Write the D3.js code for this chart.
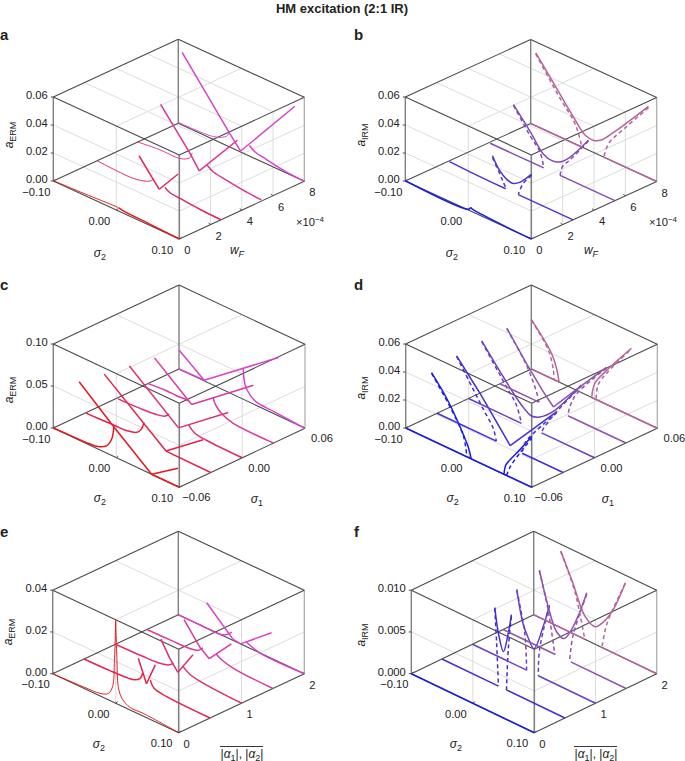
<!DOCTYPE html>
<html><head><meta charset="utf-8">
<script src="https://cdn.jsdelivr.net/npm/d3@7/dist/d3.min.js"></script>
<style>html,body{margin:0;padding:0;background:#fff}svg{display:block}text{font-family:"Liberation Sans",Arial,sans-serif;fill:#222}</style>
</head><body><svg id="c" width="685" height="761"></svg>
<script>
// ---------- tick labels ----------
const sigma2Ticks=[-0.10,0,0.10];
const wFTicks=[0,2,4,6,8];
const sigma1Ticks=[-0.06,0,0.06];
const alphaTicks=[0,1,2];
const aZTicks=[0,0.02,0.04,0.06], bZTicks=[0,0.02,0.04,0.06], cZTicks=[0,0.05,0.10], dZTicks=[0,0.02,0.04,0.06], eZTicks=[0,0.02,0.04], fZTicks=[0,0.005,0.010];
// ---------- slice positions ----------
const wFSlices=[0,8/3,16/3,8];
const sigma1Slices=[-0.06,-0.03,0,0.03,0.06];
const alphaSlices=[0,0.5,1,1.5,2];

// ---------- panel a: [sigma2, aERM] ----------
const a0L=[[-0.1,0.0003],[-0.05,0.0012],[-0.002,0.0024],[0.004,0.0024]];
const a0R=[[0.004,0.0024],[0.012,0.0017],[0.05,0.001],[0.1,0]];
const a1L=[[-0.096,0.0014],[-0.066,0.0007],[-0.039,0.0007],[-0.018,0.0031],[-0.01,0.0052],[-0.007,0.0073]];
const a1Va=[[-0.03,0.0188],[-0.01,0.0079],[0.002,0.0015]];
const a1Vb=[[0.002,0.0015],[0.032,0.0186]];
const a1R=[[0.011,0.0047],[0.019,0.0025],[0.035,0.0018],[0.067,0.0005],[0.1,0]];
const a2L=[[-0.099,0.0007],[-0.068,0.0023],[-0.052,0.0025],[-0.037,0.0024],[-0.023,0.0042],[-0.015,0.007],[-0.012,0.0108]];
const a2Va=[[-0.062,0.0352],[-0.015,0.0097],[-0.0006,0.0004]];
const a2Vb=[[-0.0006,0.0004],[0.06,0.0348]];
const a2R=[[0.012,0.007],[0.022,0.0042],[0.043,0.0026],[0.069,0.001],[0.098,0]];
const a3L=[[-0.1,0.0007],[-0.066,0.001],[-0.044,0.0021],[-0.031,0.0043],[-0.023,0.0069],[-0.019,0.0101]];
const a3Va=[[-0.094,0.0519],[-0.018,0.0095],[-0.001,0.0007]];
const a3Vb=[[-0.001,0.0007],[0.085,0.0505]];
const a3R=[[0.013,0.0076],[0.022,0.0048],[0.04,0.0031],[0.067,0.001],[0.1,0]];
// ---------- panel b: [sigma2, aIRM] ----------
const b0=[[-0.1,0.0002],[0,0.0005],[0.004,0.0024],[0.007,0.0019],[0.05,0.0006],[0.1,0]];
const b1U=[[-0.028,0.0192],[-0.017,0.0112],[-0.005,0.007],[0.005,0.0063],[0.016,0.0095],[0.034,0.019]];
const b1Da=[[-0.028,0.018],[-0.017,0.0093],[-0.011,0.0042],[-0.007,0.0009]];
const b1Db=[[0.034,0.0181],[0.02,0.0089],[0.013,0]];
const b1L=[[-0.096,0.001],[-0.058,0.0003],[-0.007,0]];
const b1R=[[0.013,0],[0.1,0]];
const b2U=[[-0.061,0.0352],[-0.034,0.0212],[-0.013,0.0096],[0,0.0079],[0.013,0.0096],[0.029,0.0164],[0.058,0.0344]];
const b2Da=[[-0.061,0.0347],[-0.034,0.0181],[-0.019,0.0102],[-0.013,0.0006]];
const b2Db=[[0.058,0.034],[0.029,0.0145],[0.017,0.0074],[0.013,0]];
const b2L=[[-0.098,0],[-0.013,0]];
const b2R=[[0.013,0],[0.1,0]];
const b3U=[[-0.092,0.0521],[-0.063,0.036],[-0.032,0.0186],[-0.013,0.0094],[0,0.0086],[0.013,0.0118],[0.032,0.0211],[0.087,0.051]];
const b3Da=[[-0.092,0.0514],[-0.053,0.0274],[-0.032,0.0162],[-0.024,0.0083],[-0.019,0.0005]];
const b3Db=[[0.087,0.05],[0.048,0.0268],[0.024,0.0116],[0.016,0]];
const b3L=[[-0.1,0],[-0.019,0]];
const b3R=[[0.016,0],[0.1,0]];
// ---------- panel c: [sigma2, aERM] ----------
const c0L=[[-0.1,0],[-0.068,0.0008],[-0.047,0.0012],[-0.029,0.003],[-0.015,0.0091],[-0.007,0.0204],[-0.004,0.0353]];
const c0Va=[[-0.059,0.0695],[-0.005,0.036],[0.056,0]];
const c0Vb=[[0.056,0],[0.098,0.022]];
const c0F=[[0.056,0],[0.1,0]];
const c1L=[[-0.098,0.0008],[-0.054,0.0022],[-0.033,0.0029],[-0.017,0.0066],[-0.01,0.0129],[-0.006,0.0222]];
const c1Va=[[-0.069,0.0575],[0.029,0.0005]];
const c1Vb=[[0.029,0.0005],[0.088,0.0348]];
const c1F=[[0.029,0.0005],[0.1,0]];
const c2L=[[-0.097,0.0006],[-0.062,0.0016],[-0.036,0.0035],[-0.022,0.0066],[-0.016,0.0114]];
const c2Va=[[-0.079,0.0461],[-0.001,0]];
const c2Vb=[[-0.001,0],[0.078,0.0461]];
const c2R=[[0.015,0.0089],[0.025,0.0028],[0.044,0.0008],[0.1,0]];
const c3L=[[-0.1,0.0005],[-0.07,0.0023],[-0.054,0.002],[-0.039,0.0028],[-0.035,0.0026]];
const c3Va=[[-0.089,0.0347],[-0.03,0]];
const c3Vb=[[-0.03,0],[0.068,0.0576]];
const c3R=[[0.004,0.0205],[0.008,0.0129],[0.017,0.0062],[0.036,0.0008],[0.1,0]];
const c4L=[[-0.1,0],[-0.06,0.0008]];
const c4Va=[[-0.1,0.0226],[-0.06,0.0008]];
const c4Vb=[[-0.06,0.0008],[0.058,0.0695]];
const c4R=[[0.002,0.0369],[0.005,0.0179],[0.013,0.0087],[0.023,0.0039],[0.05,0.0024],[0.1,0]];
// ---------- panel d: [sigma2, aIRM] ----------
const d0F=[[-0.1,0],[0.1,0]];
const d0U=[[-0.059,0.0482],[-0.035,0.035],[-0.016,0.021],[-0.001,0.0077],[0.004,0]];
const d0Ua=[[-0.059,0.0478],[-0.027,0.0283],[-0.008,0.0132],[-0.003,0]];
const d0R=[[0.056,0],[0.059,0.0073],[0.068,0.014],[0.081,0.0227],[0.1,0.0362]];
const d0Ra=[[0.06,0],[0.066,0.0075],[0.081,0.0203],[0.1,0.035]];
const d1Va=[[-0.069,0.0476],[-0.032,0.0287],[0.016,0.0014]];
const d1Vb=[[0.016,0.0014],[0.09,0.0414]];
const d1Da=[[-0.069,0.0471],[-0.026,0.018],[-0.011,0.0082],[-0.006,0]];
const d1Db=[[0.09,0.0407],[0.053,0.0181],[0.039,0.0079],[0.035,0]];
const d1L=[[-0.1,0],[-0.006,0]];
const d1R=[[0.035,0],[0.1,0]];
const d2U=[[-0.079,0.0456],[-0.045,0.0272],[-0.016,0.0132],[0,0.0087],[0.013,0.0107],[0.034,0.019],[0.079,0.0476]];
const d2Da=[[-0.079,0.045],[-0.04,0.0212],[-0.024,0.0114],[-0.016,0]];
const d2Db=[[0.079,0.047],[0.04,0.0202],[0.019,0.0038],[0.016,0]];
const d2L=[[-0.1,0],[-0.016,0]];
const d2R=[[0.016,0],[0.1,0]];
const d3Va=[[-0.089,0.0421],[-0.058,0.0235],[-0.031,0.0088],[-0.015,0.0014]];
const d3Vb=[[-0.015,0.0014],[0.006,0.0131],[0.069,0.0475]];
const d3Da=[[-0.089,0.0416],[-0.058,0.0223],[-0.042,0.0066],[-0.038,0]];
const d3Db=[[0.069,0.0468],[0.022,0.0188],[0.011,0.0071],[0.008,0]];
const d3L=[[-0.1,0],[-0.038,0]];
const d3R=[[0.008,0],[0.1,0]];
const d4U=[[-0.1,0.0354],[-0.068,0.018],[-0.06,0.009],[-0.056,0.0002]];
const d4Ua=[[-0.1,0.035],[-0.073,0.0193],[-0.065,0.0067],[-0.064,0]];
const d4V=[[-0.004,0.0006],[0.001,0.0112],[0.02,0.0246],[0.059,0.0485]];
const d4Va=[[0.003,0.0007],[0.006,0.0111],[0.022,0.024],[0.059,0.048]];
const d4L=[[-0.1,0],[-0.056,0]];
const d4R=[[-0.004,0],[0.1,0]];
// ---------- panel e: [sigma2, aERM] ----------
const e0=[[-0.1,0],[-0.051,0.0006],[-0.025,0.0012],[-0.012,0.0029],[-0.005,0.0072],[-0.002,0.0205],[0,0.0396]];
const e0b=[[0,0.0396],[0.002,0.021],[0.004,0.0085],[0.01,0.0037],[0.023,0.0012],[0.044,0.0013],[0.1,0]];
const e1L=[[-0.1,0],[-0.059,0.0002],[-0.03,0.0007],[-0.019,0.0015],[-0.011,0.0033],[-0.007,0.0063]];
const e1Va=[[-0.014,0.0125],[-0.001,0.0021]];
const e1Vb=[[-0.001,0.0021],[0.013,0.0131]];
const e1R=[[0.005,0.0048],[0.011,0.0016],[0.031,0.0005],[0.1,0]];
const e2L=[[-0.1,0],[-0.056,0.0003],[-0.03,0.0008],[-0.016,0.0019],[-0.008,0.0038]];
const e2Va=[[-0.028,0.0126],[-0.014,0.0055],[-0.001,0.0005]];
const e2Vb=[[-0.001,0.0005],[0.023,0.0123]];
const e2R=[[0.007,0.0045],[0.018,0.0023],[0.039,0.001],[0.1,0]];
const e3L=[[-0.1,0],[-0.058,0.0002],[-0.032,0.0005],[-0.019,0.0014],[-0.011,0.0037]];
const e3Va=[[-0.041,0.013],[-0.016,0.0034],[-0.001,0]];
const e3Vb=[[-0.001,0],[0.034,0.012]];
const e3R=[[0.01,0.0038],[0.019,0.0022],[0.04,0.0007],[0.1,0]];
const e4L=[[-0.1,0],[-0.066,0],[-0.034,0],[-0.023,0.0014],[-0.015,0.0037]];
const e4Va=[[-0.055,0.0121],[-0.013,0.0005],[-0.001,0]];
const e4Vb=[[-0.001,0],[0.048,0.0123]];
const e4R=[[0.008,0.0022],[0.03,0],[0.1,0]];
// ---------- panel f: [sigma2, aIRM] ----------
const f0=[[-0.1,0],[0.1,0]];
const f1U=[[-0.014,0.0092],[-0.008,0.0063],[0,0.0044],[0.008,0.0069],[0.013,0.0093]];
const f1Da=[[-0.014,0.0091],[-0.011,0.005],[-0.008,0]];
const f1Db=[[0.013,0.0091],[0.008,0.005],[0.005,0]];
const f1L=[[-0.1,0],[-0.008,0]];
const f1R=[[0.005,0],[0.1,0]];
const f2U=[[-0.028,0.0091],[-0.018,0.0054],[-0.009,0.0039],[0,0.003],[0.015,0.0062],[0.025,0.0091]];
const f2Da=[[-0.028,0.009],[-0.015,0.0043],[-0.012,0]];
const f2Db=[[0.025,0.009],[0.009,0.0032],[0.007,0]];
const f2L=[[-0.1,0],[-0.012,0]];
const f2R=[[0.007,0],[0.1,0]];
const f3U=[[-0.041,0.0092],[-0.027,0.0054],[-0.013,0.0028],[-0.001,0.0024],[0.008,0.0034],[0.022,0.0059],[0.036,0.0092]];
const f3Da=[[-0.041,0.0091],[-0.027,0.005],[-0.016,0]];
const f3Db=[[0.036,0.009],[0.014,0.0034],[0.008,0]];
const f3L=[[-0.1,0],[-0.015,0]];
const f3R=[[0.01,0],[0.1,0]];
const f4U=[[-0.056,0.0092],[-0.036,0.006],[-0.017,0.0028],[0,0.0021],[0.013,0.0031],[0.03,0.0053],[0.049,0.0091]];
const f4Da=[[-0.056,0.0091],[-0.033,0.0051],[-0.017,0]];
const f4Db=[[0.049,0.009],[0.019,0.0031],[0.011,0]];
const f4L=[[-0.1,0],[-0.017,0]];
const f4R=[[0.011,0],[0.1,0]];

// style codes per curve: t thin, d dashed, s sharp (straight polyline)
const panels=[
 {id:"a",L:[53.3,181],F:[179.3,239],R:[304.3,181.3],H:84,z:aZTicks,fmt:".2f",yT:wFTicks,yF:d3.format("d"),yOff:[8,11],slices:wFSlices,pal:"erm",name:"ERM",nameXY:[9,135],sig:[100,253],
  curves:[[0,a0L,"t"],[0,a0R,""],[1,a1L,"t"],[1,a1Va,"s"],[1,a1Vb,"s"],[1,a1R,""],[2,a2L,"t"],[2,a2Va,"s"],[2,a2Vb,"s"],[2,a2R,""],[3,a3L,"t"],[3,a3Va,"s"],[3,a3Vb,"s"],[3,a3R,""]]},
 {id:"b",L:[405.3,181],F:[531.3,239],R:[656.7,181.5],H:84,z:bZTicks,fmt:".2f",yT:wFTicks,yF:d3.format("d"),yOff:[8,11],slices:wFSlices,pal:"irm",name:"IRM",nameXY:[361,135],sig:[452,253],
  curves:[[0,b0,""],[1,b1L,""],[1,b1R,""],[1,b1U,""],[1,b1Da,"d"],[1,b1Db,"d"],[2,b2L,""],[2,b2R,""],[2,b2U,""],[2,b2Da,"d"],[2,b2Db,"d"],[3,b3L,""],[3,b3R,""],[3,b3U,""],[3,b3Da,"d"],[3,b3Db,"d"]]},
 {id:"c",L:[53.3,428],F:[179.3,487.3],R:[305,428.3],H:84,z:cZTicks,fmt:".2f",yT:sigma1Ticks,yF:d3.format(".2f"),yOff:[17,10],slices:sigma1Slices,pal:"erm",name:"ERM",nameXY:[9,390],sig:[100,498],
  curves:[[0,c0L,""],[0,c0Va,"s"],[0,c0Vb,"s"],[0,c0F,"s"],[1,c1L,""],[1,c1Va,"s"],[1,c1Vb,"s"],[1,c1F,"s"],[2,c2L,""],[2,c2Va,"s"],[2,c2Vb,"s"],[2,c2R,""],[3,c3L,""],[3,c3Va,"s"],[3,c3Vb,"s"],[3,c3R,""],[4,c4L,"s"],[4,c4Va,"s"],[4,c4Vb,"s"],[4,c4R,""]]},
 {id:"d",L:[405.7,428],F:[531.7,487.3],R:[657.3,428.3],H:84,z:dZTicks,fmt:".2f",yT:sigma1Ticks,yF:d3.format(".2f"),yOff:[17,10],slices:sigma1Slices,pal:"irm",name:"IRM",nameXY:[361,388],sig:[452.7,498],
  curves:[[0,d0F,""],[0,d0U,""],[0,d0Ua,"d"],[0,d0R,""],[0,d0Ra,"d"],[1,d1L,""],[1,d1R,""],[1,d1Va,"s"],[1,d1Vb,"s"],[1,d1Da,"d"],[1,d1Db,"d"],[2,d2L,""],[2,d2R,""],[2,d2U,""],[2,d2Da,"d"],[2,d2Db,"d"],[3,d3L,""],[3,d3R,""],[3,d3Va,"s"],[3,d3Vb,""],[3,d3Da,"d"],[3,d3Db,"d"],[4,d4L,""],[4,d4R,""],[4,d4U,""],[4,d4Ua,"d"],[4,d4V,""],[4,d4Va,"d"]]},
 {id:"e",L:[52.7,673.7],F:[178.7,732.7],R:[304.3,673.7],H:83.5,z:eZTicks,fmt:".2f",yT:alphaTicks,yF:d3.format("d"),yOff:[8,11],slices:alphaSlices,pal:"erm",name:"ERM",nameXY:[8,632],sig:[99,744],
  curves:[[0,e0,"t"],[0,e0b,"t"],[1,e1L,""],[1,e1Va,"s"],[1,e1Vb,"s"],[1,e1R,""],[2,e2L,""],[2,e2Va,"s"],[2,e2Vb,"s"],[2,e2R,""],[3,e3L,""],[3,e3Va,"s"],[3,e3Vb,"s"],[3,e3R,""],[4,e4L,""],[4,e4Va,"s"],[4,e4Vb,"s"],[4,e4R,""]]},
 {id:"f",L:[411.3,673.7],F:[534.3,732.7],R:[656.7,673.7],H:83.5,z:fZTicks,fmt:".3f",yT:alphaTicks,yF:d3.format("d"),yOff:[8,11],slices:alphaSlices,pal:"irm",name:"IRM",nameXY:[361,635],sig:[456,744],
  curves:[[0,f0,""],[1,f1L,""],[1,f1R,""],[1,f1U,""],[1,f1Da,"d"],[1,f1Db,"d"],[2,f2L,""],[2,f2R,""],[2,f2U,""],[2,f2Da,"d"],[2,f2Db,"d"],[3,f3L,""],[3,f3R,""],[3,f3U,""],[3,f3Da,"d"],[3,f3Db,"d"],[4,f4L,""],[4,f4R,""],[4,f4U,""],[4,f4Da,"d"],[4,f4Db,"d"]]}
];
const letterPos={a:[0,40],b:[354,40],c:[0,290],d:[354,290],e:[0,537],f:[354,537]};
const yLabelPos={a:["wF",[237,250],[310,222]],b:["wF",[591,250],[663,222]],c:["s1",[257,499]],d:["s1",[608,499]],e:["al",[242,754]],f:["al",[596,754]]};

const svg=d3.select("#c");
svg.append("text").attr("x",342).attr("y",13).attr("text-anchor","middle").attr("font-weight","bold").attr("font-size",13).text("HM excitation (2:1 IR)");

const ermCol=d3.interpolateRgb("#e8161e","#d844c8"), irmCol=d3.interpolateRgb("#1c1ce8","#b5649c");
const sigmaScale=d3.scaleLinear().domain([-0.1,0.1]).range([0,1]);

panels.forEach(p=>{
  const g=svg.append("g");
  const yDom=d3.extent(p.yT);
  const yScale=d3.scaleLinear().domain(yDom).range([0,1]);
  const zMax=d3.max(p.z);
  const zScale=d3.scaleLinear().domain([0,zMax]).range([0,1]);
  const X=(u,v)=>p.L[0]+(p.F[0]-p.L[0])*u+(p.R[0]-p.F[0])*v;
  const Y=(u,v,w)=>p.L[1]+(p.F[1]-p.L[1])*u+(p.R[1]-p.F[1])*v-p.H*w;
  const seg=(a,b,col,wd)=>g.append("line").attr("x1",X(a[0],a[1])).attr("y1",Y(a[0],a[1],a[2])).attr("x2",X(b[0],b[1])).attr("y2",Y(b[0],b[1],b[2])).attr("stroke",col).attr("stroke-width",wd);
  const grid="#dcdcdc";
  // grid: top face and two front faces
  sigma2Ticks.slice(1,-1).forEach(s=>{const u=sigmaScale(s);
    seg([u,0,1],[u,1,1],grid,1);seg([u,0,0],[u,0,1],grid,1);});
  p.yT.slice(1,-1).forEach(t=>{const v=yScale(t);
    seg([0,v,1],[1,v,1],grid,1);seg([1,v,0],[1,v,1],grid,1);});
  p.z.slice(1,-1).forEach(t=>{const w=zScale(t);
    seg([0,0,w],[1,0,w],grid,1);seg([1,0,w],[1,1,w],grid,1);});
  // box edges
  const dk="#4a4a4a", gr="#808080";
  seg([0,0,0],[0,0,1],gr,1.4);seg([1,0,0],[1,0,1],gr,1.6);seg([1,1,0],[1,1,1],"#a8a8a8",1.2);seg([0,1,0],[0,1,1],gr,1.4);
  [[0,0],[1,0],[1,1],[0,1]].forEach((c,i,arr)=>{const n=arr[(i+1)%4];
    seg([c[0],c[1],1],[n[0],n[1],1],dk,1.1);seg([c[0],c[1],0],[n[0],n[1],0],dk,1.1);});
  // ticks and labels
  const fz=d3.format(p.fmt);
  p.z.forEach(t=>{const w=zScale(t),x=X(0,0),y=Y(0,0,w);
    g.append("line").attr("x1",x-2.5).attr("x2",x).attr("y1",y).attr("y2",y).attr("stroke",dk);
    g.append("text").attr("x",x-5.5).attr("y",y-2).attr("dy","0.36em").attr("text-anchor","end").attr("font-size",11.2).text(fz(t));});
  sigma2Ticks.forEach(s=>{const u=sigmaScale(s),x=X(u,0),y=Y(u,0,0);
    g.append("line").attr("x1",x).attr("x2",x+2).attr("y1",y).attr("y2",y-1.5).attr("stroke",dk);
    g.append("text").attr("x",x-17).attr("y",y+10.5).attr("dy","0.36em").attr("text-anchor","middle").attr("font-size",11.2).text(d3.format(".2f")(s));});
  p.yT.forEach(t=>{const v=yScale(t),x=X(1,v),y=Y(1,v,0);
    g.append("line").attr("x1",x).attr("x2",x-2).attr("y1",y).attr("y2",y-1.5).attr("stroke",dk);
    g.append("text").attr("x",x+p.yOff[0]).attr("y",y+p.yOff[1]).attr("dy","0.36em").attr("text-anchor","middle").attr("font-size",11.2).text(p.yF(t));});
  // curves
  const n=p.slices.length;
  const sliceScale=d3.scaleLinear().domain(yDom).range([0,1]);
  const lineFor=(v,sharp)=>d3.line().x(d=>X(sigmaScale(d[0]),v)).y(d=>Y(sigmaScale(d[0]),v,zScale(d[1]))).curve(sharp?d3.curveLinear:d3.curveCatmullRom.alpha(0.5));
  p.curves.forEach(([i,pts,style])=>{
    const col=(p.pal==="erm"?ermCol:irmCol)(i/(n-1));
    const v=sliceScale(p.slices[i]);
    const path=g.append("path").datum(pts).attr("fill","none").attr("stroke",col)
      .attr("stroke-linejoin","round")
      .attr("stroke-width",style==="t"?0.95:1.5)
      .attr("d",lineFor(v,style==="s"));
    if(style==="d")path.attr("stroke-dasharray","4 3");
  });
  // axis names
  const nm=g.append("text").attr("transform",`translate(${p.nameXY[0]+4},${p.nameXY[1]}) rotate(-90)`).attr("text-anchor","middle").attr("font-size",12);
  nm.append("tspan").attr("font-style","italic").text("a");
  nm.append("tspan").attr("font-size",9).attr("dy",3).text(p.name);
  const sg=g.append("text").attr("x",p.sig[0]).attr("y",p.sig[1]+4).attr("text-anchor","middle").attr("font-size",12);
  sg.append("tspan").attr("font-style","italic").text("σ");
  sg.append("tspan").attr("font-size",9).attr("dy",3).text("2");
  const yl=yLabelPos[p.id];
  if(yl[0]==="wF"){
    const t=g.append("text").attr("x",yl[1][0]).attr("y",yl[1][1]+4).attr("text-anchor","middle").attr("font-size",12);
    t.append("tspan").attr("font-style","italic").text("w");
    t.append("tspan").attr("font-style","italic").attr("font-size",9).attr("dy",3).text("F");
    const e=g.append("text").attr("x",yl[2][0]).attr("y",yl[2][1]+4).attr("text-anchor","middle").attr("font-size",11.2);
    e.append("tspan").text("×10");
    e.append("tspan").attr("font-size",8).attr("dy",-4).text("−4");
  } else if(yl[0]==="s1"){
    const t=g.append("text").attr("x",yl[1][0]).attr("y",yl[1][1]+4).attr("text-anchor","middle").attr("font-size",12);
    t.append("tspan").attr("font-style","italic").text("σ");
    t.append("tspan").attr("font-size",9).attr("dy",3).text("1");
  } else {
    const t=g.append("text").attr("x",yl[1][0]).attr("y",yl[1][1]+4).attr("text-anchor","middle").attr("font-size",12);
    t.append("tspan").text("|");
    t.append("tspan").attr("font-style","italic").text("α");
    t.append("tspan").attr("font-size",9).attr("dy",3).text("1");
    t.append("tspan").attr("dy",-3).text("|, |");
    t.append("tspan").attr("font-style","italic").text("α");
    t.append("tspan").attr("font-size",9).attr("dy",3).text("2");
    t.append("tspan").attr("dy",-3).text("|");
    g.append("line").attr("x1",yl[1][0]-22).attr("x2",yl[1][0]+21).attr("y1",yl[1][1]-7.5).attr("y2",yl[1][1]-7.5).attr("stroke","#222").attr("stroke-width",0.9);
  }
  const lp=letterPos[p.id];
  svg.append("text").attr("x",lp[0]).attr("y",lp[1]).attr("font-weight","bold").attr("font-size",15).text(p.id);
});
</script></body></html>
